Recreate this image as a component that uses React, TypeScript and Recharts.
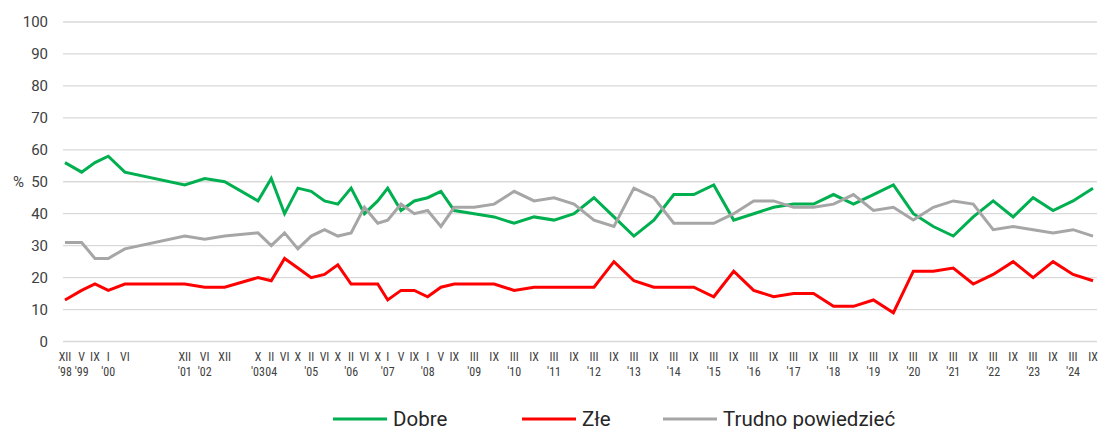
import React from 'react';
import { LineChart, Line, XAxis, YAxis, CartesianGrid, Legend, Label } from 'recharts';

// Survey dates (year-month)
const dates: string[] = [
  '1998-12', '1999-05', '1999-09', '2000-01', '2000-06', '2001-12', '2002-06', '2002-12',
  '2003-10', '2004-02', '2004-06', '2004-10', '2005-02', '2005-06', '2005-10', '2006-02',
  '2006-06', '2006-10', '2007-01', '2007-05', '2007-09', '2008-01', '2008-05', '2008-09',
  '2009-03', '2009-09', '2010-03', '2010-09', '2011-03', '2011-09', '2012-03', '2012-09',
  '2013-03', '2013-09', '2014-03', '2014-09', '2015-03', '2015-09', '2016-03', '2016-09',
  '2017-03', '2017-09', '2018-03', '2018-09', '2019-03', '2019-09', '2020-03', '2020-09',
  '2021-03', '2021-09', '2022-03', '2022-09', '2023-03', '2023-09', '2024-03', '2024-09',
];

const dobre: number[] = [
  56, 53, 56, 58, 53, 49, 51, 50,
  44, 51, 40, 48, 47, 44, 43, 48,
  40, 44, 48, 41, 44, 45, 47, 41,
  40, 39, 37, 39, 38, 40, 45, 39,
  33, 38, 46, 46, 49, 38, 40, 42,
  43, 43, 46, 43, 46, 49, 40, 36,
  33, 39, 44, 39, 45, 41, 44, 48,
];

const zle: number[] = [
  13, 16, 18, 16, 18, 18, 17, 17,
  20, 19, 26, 23, 20, 21, 24, 18,
  18, 18, 13, 16, 16, 14, 17, 18,
  18, 18, 16, 17, 17, 17, 17, 25,
  19, 17, 17, 17, 14, 22, 16, 14,
  15, 15, 11, 11, 13, 9, 22, 22,
  23, 18, 21, 25, 20, 25, 21, 19,
];

const trudno: number[] = [
  31, 31, 26, 26, 29, 33, 32, 33,
  34, 30, 34, 29, 33, 35, 33, 34,
  42, 37, 38, 43, 40, 41, 36, 42,
  42, 43, 47, 44, 45, 43, 38, 36,
  48, 45, 37, 37, 37, 40, 44, 44,
  42, 42, 43, 46, 41, 42, 38, 42,
  44, 43, 35, 36, 35, 34, 35, 33,
];

// Tick labels (two lines: month in roman numerals, year below)
const monthLabels: string[] = [
  'XII', 'V', 'IX', 'I', 'VI', 'XII', 'VI', 'XII',
  'X', 'II', 'VI', 'X', 'II', 'VI', 'X', 'II',
  'VI', 'X', 'I', 'V', 'IX', 'I', 'V', 'IX',
  'III', 'IX', 'III', 'IX', 'III', 'IX', 'III', 'IX',
  'III', 'IX', 'III', 'IX', 'III', 'IX', 'III', 'IX',
  'III', 'IX', 'III', 'IX', 'III', 'IX', 'III', 'IX',
  'III', 'IX', 'III', 'IX', 'III', 'IX', 'III', 'IX',
];

const yearLabels: string[] = [
  "'98", "'99", '', "'00", '', "'01", "'02", '',
  "'03", '04', '', '', "'05", '', '', "'06",
  '', '', "'07", '', '', "'08", '', '',
  "'09", '', "'10", '', "'11", '', "'12", '',
  "'13", '', "'14", '', "'15", '', "'16", '',
  "'17", '', "'18", '', "'19", '', "'20", '',
  "'21", '', "'22", '', "'23", '', "'24", '',
];

const yTicks: number[] = [0, 10, 20, 30, 40, 50, 60, 70, 80, 90, 100];

const seriesNames = ['Dobre', 'Złe', 'Trudno powiedzieć'];
const seriesKeys = ['dobre', 'zle', 'trudno'];
const seriesColors = ['#00B050', '#FF0000', '#A6A6A6'];

const monthIndex = (d: string) => {
  const [y, m] = d.split('-').map(Number);
  return (y - 1998) * 12 + (m - 1);
};

const data = dates.map((d, i) => ({
  t: monthIndex(d),
  dobre: dobre[i],
  zle: zle[i],
  trudno: trudno[i],
}));

const tickValues = dates.map(monthIndex);

const TEXT = '#404040';
const FONT = 'Roboto, "Noto Sans", sans-serif';
const COND = '"Roboto Condensed", "Liberation Sans Narrow", Roboto, sans-serif';

const XTick = (props: any) => {
  const { x, y, payload } = props;
  const i = tickValues.indexOf(payload.value);
  return (
    <text x={x} y={y} textAnchor="middle" fontSize={12} fill={TEXT} fontFamily={COND}>
      <tspan x={x} y={y + 19.5}>{monthLabels[i]}</tspan>
      <tspan x={x} y={y + 34.5}>{yearLabels[i]}</tspan>
    </text>
  );
};

const legendStarts = [333, 522, 663];

const LegendContent = () => (
  <div style={{ position: 'relative', width: 1100, height: 28 }}>
    {seriesNames.map((n, i) => (
      <div
        key={n}
        style={{
          position: 'absolute',
          left: legendStarts[i],
          top: 0,
          height: 28,
          display: 'flex',
          alignItems: 'center',
          whiteSpace: 'nowrap',
        }}
      >
        <svg width={54} height={4} style={{ display: 'block' }}>
          <line x1={0} y1={2} x2={54} y2={2} stroke={seriesColors[i]} strokeWidth={3} />
        </svg>
        <span style={{ marginLeft: 6, fontFamily: FONT, fontSize: 20.5, color: '#262626', lineHeight: '28px' }}>{n}</span>
      </div>
    ))}
  </div>
);

export default function App() {
  return (
    <div style={{ position: 'absolute', left: 0, top: 0, width: 1100, height: 429, background: '#fff' }}>
      <LineChart
        width={1100}
        height={429}
        data={data}
        margin={{ top: 22, right: 3, bottom: 47.5, left: 13 }}
      >
        <CartesianGrid vertical={false} stroke="#D9D9D9" strokeWidth={1.3} />
        <XAxis
          dataKey="t"
          type="number"
          domain={[10.4, 321.2]}
          allowDataOverflow
          ticks={tickValues}
          interval={0}
          tick={<XTick />}
          tickLine={false}
          axisLine={false}
          tickSize={0}
          tickMargin={0}
          height={40}
        />
        <YAxis
          type="number"
          domain={[0, 100]}
          ticks={yTicks}
          interval={0}
          width={50}
          tickLine={false}
          axisLine={false}
          tickSize={0}
          tickMargin={15}
          tick={{ fontSize: 15, fill: TEXT, fontFamily: FONT }}
        >
          <Label value="%" position="insideLeft" offset={0} style={{ fontSize: 15, fill: TEXT, fontFamily: FONT }} />
        </YAxis>
        <Legend
          layout="horizontal"
          verticalAlign="middle"
          align="center"
          content={<LegendContent />}
          wrapperStyle={{ position: 'absolute', left: 0, top: 404.7, width: 1100, height: 28 }}
        />
        {seriesKeys.map((k, i) => (
          <Line
            key={k}
            type="linear"
            dataKey={k}
            name={seriesNames[i]}
            stroke={seriesColors[i]}
            strokeWidth={3}
            dot={false}
            activeDot={false}
            isAnimationActive={false}
          />
        ))}
      </LineChart>
    </div>
  );
}
